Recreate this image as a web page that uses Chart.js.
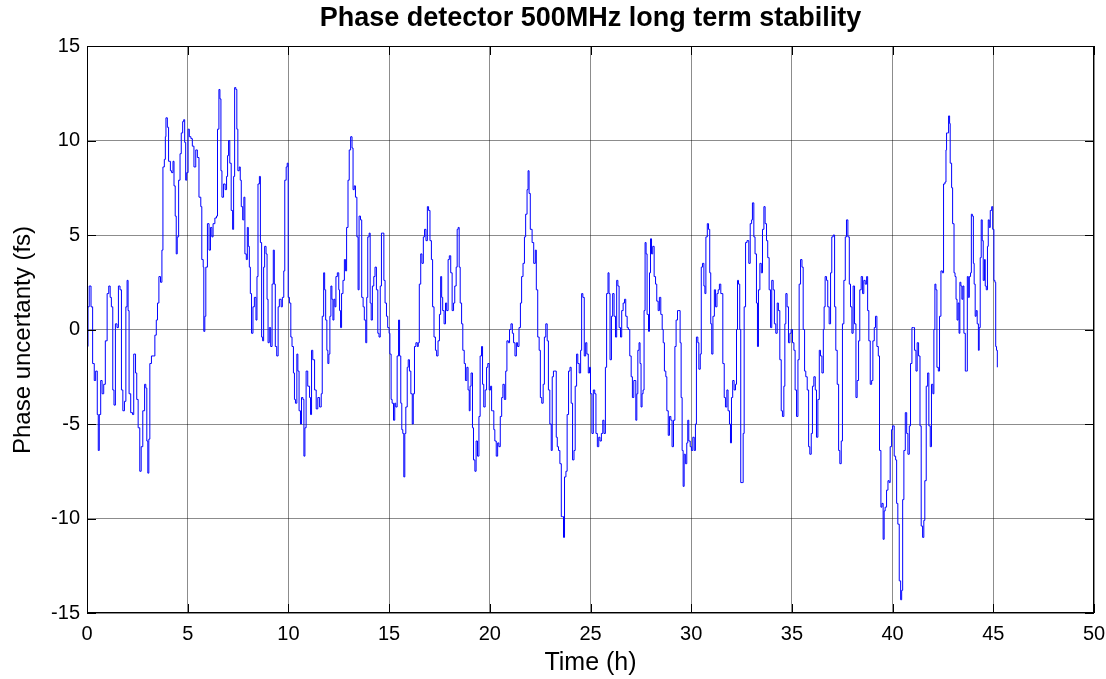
<!DOCTYPE html>
<html>
<head>
<meta charset="utf-8">
<title>Phase detector 500MHz long term stability</title>
<script src="https://cdn.jsdelivr.net/npm/chart.js@4/dist/chart.umd.min.js"></script>
<style>
  html, body { margin: 0; padding: 0; background: #fff; }
  #wrap { width: 1106px; height: 679px; }
</style>
</head>
<body>
<div id="wrap"><canvas id="phase-chart" width="1106" height="679"></canvas></div>
<script>
(function() {
    const FONT = "'Liberation Sans', Arial, sans-serif";

    const chartTitle = 'Phase detector 500MHz long term stability';
    const xLabel = 'Time (h)';
    const yLabel = 'Phase uncertanty (fs)';

    // axis ticks
    const xTicks = [0, 5, 10, 15, 20, 25, 30, 35, 40, 45, 50];
    const yTicks = [-15, -10, -5, 0, 5, 10, 15];

    // time (h) of each reading
    const hours = [
        // 0 - 5.4 h
        0, 0.05, 0.11, 0.2, 0.28, 0.36, 0.43, 0.51, 0.56, 0.61,
        0.68, 0.75, 0.83, 0.91, 1.0, 1.08, 1.15, 1.21, 1.28, 1.34,
        1.41, 1.49, 1.56, 1.64, 1.71, 1.78, 1.86, 1.93, 1.99, 2.04,
        2.09, 2.17, 2.26, 2.32, 2.41, 2.47, 2.54, 2.62, 2.69, 2.77,
        2.86, 2.92, 2.97, 3.02, 3.07, 3.12, 3.2, 3.29, 3.37, 3.44,
        3.5, 3.57, 3.65, 3.72, 3.77, 3.84, 3.89, 3.92, 3.99, 4.05,
        4.14, 4.2, 4.27, 4.32, 4.38, 4.43, 4.48, 4.55, 4.62, 4.68,
        4.75, 4.8, 4.85, 4.9, 4.95, 5.02, 5.08, 5.16, 5.23, 5.31,
        5.4,
        // 5.5 - 10.9 h
        5.48, 5.56, 5.65, 5.7, 5.77, 5.8, 5.85, 5.9, 5.98, 6.06,
        6.13, 6.2, 6.26, 6.35, 6.43, 6.48, 6.55, 6.6, 6.65, 6.7,
        6.78, 6.86, 6.93, 6.98, 7.03, 7.09, 7.16, 7.23, 7.28, 7.33,
        7.39, 7.44, 7.49, 7.56, 7.61, 7.66, 7.73, 7.79, 7.84, 7.91,
        7.96, 8.01, 8.06, 8.11, 8.17, 8.24, 8.31, 8.39, 8.44, 8.49,
        8.56, 8.61, 8.67, 8.72, 8.77, 8.82, 8.89, 8.94, 8.99, 9.05,
        9.12, 9.19, 9.25, 9.3, 9.35, 9.42, 9.49, 9.55, 9.64, 9.7,
        9.77, 9.82, 9.89, 9.94, 9.99, 10.05, 10.12, 10.18, 10.25, 10.3,
        10.35, 10.42, 10.47, 10.53, 10.6, 10.65, 10.72, 10.77, 10.82, 10.88,
        // 11 - 16.4 h
        10.96, 11.05, 11.1, 11.15, 11.21, 11.3, 11.38, 11.46, 11.55, 11.63,
        11.68, 11.75, 11.8, 11.85, 11.91, 11.96, 12.01, 12.06, 12.11, 12.16,
        12.21, 12.26, 12.31, 12.36, 12.43, 12.5, 12.54, 12.59, 12.64, 12.71,
        12.78, 12.84, 12.89, 12.96, 13.02, 13.09, 13.16, 13.21, 13.27, 13.33,
        13.4, 13.46, 13.51, 13.58, 13.64, 13.71, 13.77, 13.84, 13.89, 13.94,
        14.01, 14.06, 14.11, 14.17, 14.24, 14.3, 14.37, 14.44, 14.5, 14.56,
        14.62, 14.69, 14.74, 14.8, 14.87, 14.93, 15.0, 15.04, 15.1, 15.15,
        15.22, 15.28, 15.33, 15.4, 15.47, 15.52, 15.58, 15.63, 15.68, 15.73,
        15.78, 15.83, 15.9, 15.95, 16.01, 16.08, 16.15, 16.2, 16.26, 16.33,
        16.4,
        // 16.5 - 22 h
        16.45, 16.5, 16.57, 16.63, 16.7, 16.76, 16.83, 16.9, 16.96, 17.03,
        17.1, 17.16, 17.23, 17.3, 17.36, 17.43, 17.5, 17.56, 17.61, 17.66,
        17.73, 17.8, 17.86, 17.93, 17.99, 18.06, 18.13, 18.2, 18.26, 18.33,
        18.38, 18.43, 18.48, 18.53, 18.6, 18.66, 18.73, 18.79, 18.86, 18.92,
        18.98, 19.02, 19.07, 19.14, 19.19, 19.26, 19.32, 19.39, 19.46, 19.52,
        19.59, 19.64, 19.7, 19.77, 19.84, 19.9, 19.97, 20.04, 20.09, 20.15,
        20.2, 20.25, 20.32, 20.39, 20.45, 20.52, 20.59, 20.65, 20.72, 20.79,
        20.85, 20.92, 20.98, 21.05, 21.12, 21.18, 21.25, 21.32, 21.38, 21.45,
        21.52, 21.58, 21.65, 21.72, 21.78, 21.85, 21.9, 21.95,
        // 22 - 27.2 h
        22.01, 22.1, 22.18, 22.26, 22.31, 22.38, 22.45, 22.51, 22.58, 22.65,
        22.71, 22.78, 22.85, 22.91, 22.98, 23.05, 23.1, 23.16, 23.23, 23.3,
        23.35, 23.41, 23.48, 23.55, 23.61, 23.66, 23.71, 23.78, 23.84, 23.91,
        23.98, 24.04, 24.11, 24.18, 24.24, 24.31, 24.37, 24.44, 24.51, 24.56,
        24.62, 24.69, 24.76, 24.82, 24.89, 24.95, 25.0, 25.07, 25.14, 25.21,
        25.27, 25.34, 25.41, 25.47, 25.54, 25.61, 25.67, 25.74, 25.8, 25.87,
        25.92, 25.97, 26.04, 26.1, 26.17, 26.24, 26.3, 26.36, 26.42, 26.49,
        26.55, 26.62, 26.69, 26.75, 26.82, 26.88, 26.95, 27.02, 27.08, 27.15,
        // 27.2 - 32.8 h
        27.25, 27.3, 27.35, 27.41, 27.46, 27.51, 27.56, 27.61, 27.66, 27.71,
        27.76, 27.81, 27.88, 27.93, 27.98, 28.03, 28.09, 28.16, 28.23, 28.29,
        28.36, 28.42, 28.49, 28.56, 28.61, 28.67, 28.74, 28.79, 28.86, 28.92,
        28.99, 29.05, 29.12, 29.19, 29.25, 29.32, 29.39, 29.45, 29.5, 29.55,
        29.6, 29.65, 29.71, 29.78, 29.83, 29.88, 29.95, 30.01, 30.08, 30.15,
        30.21, 30.26, 30.33, 30.38, 30.45, 30.5, 30.56, 30.63, 30.68, 30.73,
        30.8, 30.86, 30.92, 30.97, 31.02, 31.08, 31.15, 31.21, 31.28, 31.34,
        31.4, 31.47, 31.57, 31.64, 31.7, 31.77, 31.83, 31.9, 31.95, 32.0,
        32.06, 32.13, 32.2, 32.25, 32.3, 32.35, 32.41, 32.46, 32.53, 32.58,
        32.63, 32.7, 32.77,
        // 32.9 - 38.2 h
        32.86, 32.93, 33.0, 33.04, 33.11, 33.17, 33.24, 33.29, 33.34, 33.41,
        33.48, 33.54, 33.61, 33.67, 33.74, 33.8, 33.87, 33.94, 34.0, 34.07,
        34.13, 34.2, 34.27, 34.33, 34.4, 34.47, 34.53, 34.6, 34.65, 34.7,
        34.76, 34.83, 34.9, 34.96, 35.03, 35.1, 35.16, 35.23, 35.3, 35.36,
        35.43, 35.5, 35.56, 35.63, 35.69, 35.76, 35.83, 35.89, 35.96, 36.02,
        36.09, 36.16, 36.22, 36.29, 36.36, 36.42, 36.49, 36.56, 36.6, 36.65,
        36.72, 36.78, 36.85, 36.92, 36.98, 37.05, 37.12, 37.18, 37.25, 37.32,
        37.38, 37.45, 37.51, 37.58, 37.65, 37.71, 37.78, 37.85, 37.91, 37.98,
        38.04, 38.11, 38.18,
        // 38.2 - 42.1 h
        38.24, 38.31, 38.37, 38.44, 38.51, 38.57, 38.64, 38.71, 38.76, 38.82,
        38.89, 38.96, 39.02, 39.09, 39.15, 39.22, 39.29, 39.35, 39.42, 39.47,
        39.53, 39.58, 39.63, 39.7, 39.77, 39.83, 39.88, 39.95, 40.0, 40.08,
        40.15, 40.2, 40.26, 40.33, 40.4, 40.45, 40.5, 40.56, 40.63, 40.7,
        40.76, 40.83, 40.89, 40.96, 41.03, 41.09, 41.16, 41.22, 41.29, 41.36,
        41.42, 41.49, 41.55, 41.6, 41.67, 41.74, 41.8, 41.87, 41.93, 42.0,
        42.05, 42.1,
        // 42.1 - 45.2 h
        42.15, 42.2, 42.27, 42.33, 42.4, 42.47, 42.53, 42.6, 42.65, 42.68,
        42.73, 42.78, 42.83, 42.86, 42.93, 42.98, 43.05, 43.1, 43.15, 43.2,
        43.25, 43.3, 43.34, 43.39, 43.44, 43.49, 43.54, 43.61, 43.66, 43.71,
        43.76, 43.81, 43.87, 43.91, 43.96, 44.01, 44.05, 44.1, 44.15, 44.2,
        44.26, 44.3, 44.35, 44.4, 44.45, 44.5, 44.56, 44.6, 44.65, 44.71,
        44.75, 44.8, 44.85, 44.92, 44.97, 45.03, 45.08, 45.12, 45.16, 45.2
    ];

    // phase (fs) at each reading
    const phase = [
        // 0 - 5.4 h
        -0.9, 1.2, 2.3, 1.2, -1.8, -2.7, -2.2, -4.5, -6.4, -4.5,
        -2.7, -3.4, -2.9, -0.6, 1.9, 2.3, 1.7, 1.2, -3.2, -4.0,
        0.3, 0.1, 2.3, 2.1, -3.2, -4.3, -3.8, 1.2, 2.6, 1.0,
        -3.4, -4.4, -4.5, -1.3, -2.3, -3.7, -5.2, -7.5, -6.2, -4.3,
        -2.9, -3.1, -5.9, -7.6, -5.8, -1.8, -1.4, -1.4, -0.3, 0.5,
        1.4, 2.8, 2.5, 4.2, 8.6, 9.0, 10.2, 11.2, 10.7, 8.9,
        8.4, 8.3, 8.9, 7.6, 6.0, 4.0, 4.9, 7.9, 9.3, 10.4,
        11.0, 11.1, 9.9, 7.9, 8.3, 10.6, 10.2, 10.1, 9.7, 8.6,
        9.5,
        // 5.5 - 10.9 h
        9.1, 7.0, 6.5, 3.7, 3.3, -0.1, 0.7, 3.3, 5.6, 4.2,
        5.4, 4.9, 5.6, 5.9, 6.0, 10.6, 12.7, 12.2, 8.4, 7.0,
        7.7, 7.4, 8.1, 9.2, 10.0, 8.8, 6.3, 5.3, 8.1, 12.8,
        12.7, 10.6, 8.4, 8.6, 7.9, 6.5, 5.8, 7.0, 4.0, 3.7,
        5.4, 4.4, 3.3, 1.9, -0.2, 1.2, 1.7, 0.5, 2.8, 7.7,
        8.1, 4.6, -0.4, -0.6, 3.3, 4.4, 4.0, 1.6, -0.7, 0.1,
        -0.9, 2.4, 4.2, 2.4, -0.9, -1.4, 1.2, 1.6, 1.2, 1.7,
        3.1, 7.9, 8.6, 8.8, 1.7, 1.4, -0.4, -0.9, -2.3, -3.7,
        -3.9, -1.3, -2.2, -4.3, -5.0, -3.6, -3.7, -6.7, -5.2, -2.2,
        // 11 - 16.4 h
        -3.0, -3.6, -4.5, -1.1, -1.6, -3.2, -4.2, -3.6, -4.1, -3.4,
        0.7, 3.0, 2.1, 0.5, -1.1, -1.8, -1.3, 0.7, 2.3, 1.6,
        0.5, 1.6, 1.2, 2.8, 3.0, 2.1, 1.0, 0.1, 1.9, 2.6,
        3.7, 3.1, 5.4, 7.9, 9.5, 10.2, 9.6, 7.4, 7.6, 7.0,
        4.9, 2.1, 6.0, 5.8, 1.7, 1.2, 0.5, -0.7, 1.7, 4.9,
        5.1, 1.4, 0.5, 2.3, 2.8, 3.3, 2.1, -0.2, -0.4, 2.3,
        5.1, 5.1, 2.6, 1.4, 0.7, 0.1, -0.2, -1.3, -3.7, -3.9,
        -4.8, -3.9, -4.1, -1.4, 0.5, -1.4, -3.9, -5.3, -5.5, -7.8,
        -5.5, -4.1, -2.0, -1.6, -2.2, -3.4, -5.0, -3.4, -0.9, -0.7,
        -0.9,
        // 16.5 - 22 h
        -0.7, 2.4, 4.0, 3.5, 4.9, 5.3, 4.7, 6.5, 6.3, 4.7,
        3.7, 1.2, -0.4, -1.1, -1.4, -0.6, 0.8, 2.8, 1.7, 1.0,
        0.3, 1.4, 1.0, 3.7, 3.9, 3.0, 1.0, 1.4, 2.3, 3.3,
        5.3, 5.4, 3.3, 1.4, 0.3, -1.1, -1.8, -2.7, -2.0, -3.2,
        -4.3, -3.0, -2.3, -5.2, -6.9, -7.5, -5.9, -6.7, -4.6, -1.4,
        -0.9, -2.9, -4.1, -3.2, -2.0, -1.8, -3.2, -3.0, -4.3, -4.3,
        -5.3, -5.9, -6.7, -6.0, -6.2, -4.6, -3.6, -2.9, -3.7, -2.2,
        -0.6, -0.7, 0.0, 0.3, -0.2, -0.7, -1.4, -0.7, -0.9, 0.1,
        1.4, 2.8, 3.5, 4.9, 6.1, 7.4, 8.4, 7.2,
        // 22 - 27.2 h
        5.3, 4.6, 3.5, 4.2, 2.1, -0.4, -1.1, -3.6, -3.9, -2.9,
        -0.4, 0.3, -0.6, -3.2, -5.0, -6.4, -2.5, -2.2, -2.2, -5.7,
        -6.2, -6.4, -7.1, -9.9, -9.9, -11.0, -7.8, -7.5, -4.5, -2.2,
        -2.0, -3.9, -6.9, -6.4, -3.0, -1.3, -1.8, -2.3, -1.1, 1.9,
        1.7, -1.4, -0.7, -1.3, -2.3, -2.0, -3.4, -5.5, -3.2, -3.4,
        -5.5, -6.2, -5.7, -5.9, -5.5, -4.8, -5.5, -2.0, 1.9, 3.0,
        1.9, -1.6, 0.7, 1.9, 0.7, -0.4, 2.6, 2.3, 0.1, -0.4,
        1.0, 1.4, 1.6, 0.7, 0.1, 0.0, -1.4, -2.5, -3.6, -2.7,
        // 27.2 - 32.8 h
        -4.8, -3.4, -1.1, -0.7, -1.8, -4.1, -3.4, -3.2, 1.0, 4.6,
        4.0, 0.8, -0.1, 3.0, 4.8, 4.0, 4.4, 2.8, 2.4, 1.5,
        1.0, 1.7, 0.8, 0.0, -0.7, -2.2, -2.5, -4.3, -5.6, -4.6,
        -4.8, -6.2, -4.8, -0.9, 0.5, 1.0, 1.0, -0.7, -3.6, -6.4,
        -8.3, -6.6, -7.1, -6.0, -4.8, -5.9, -6.2, -6.4, -5.7, -6.4,
        -5.0, -0.4, -0.7, -2.1, -1.3, 3.3, 3.5, 2.3, 1.9, 4.9,
        5.6, 5.3, 3.0, 0.3, -1.3, 0.7, 2.1, 1.2, 1.9, 2.1,
        2.4, 1.9, -1.8, -3.6, -4.1, -3.2, -4.3, -5.0, -6.0, -3.6,
        -2.7, -3.2, -2.9, 0.0, 2.6, 2.4, 0.0, -8.1, -8.1, -5.5,
        1.2, 4.6, 4.7,
        // 32.9 - 38.2 h
        3.5, 5.6, 5.8, 6.7, 4.9, 4.0, 1.4, -0.9, 2.1, 3.5,
        3.0, 5.3, 6.5, 5.6, 4.7, 3.8, 2.1, 0.1, 2.6, 2.1,
        0.3, -0.2, 1.4, 1.0, -1.6, -4.3, -4.6, -3.0, 0.3, 1.9,
        1.2, -0.7, -0.2, 0.0, -0.7, -1.1, -3.2, -4.6, -1.6, 2.4,
        3.7, 3.3, 0.0, -2.2, -2.5, -3.2, -6.2, -6.6, -5.5, -3.0,
        -2.5, -3.2, -5.7, -3.7, -1.1, -1.4, -2.3, 0.0, 1.2, 2.8,
        2.6, 1.2, 0.3, 3.0, 4.9, 5.0, 1.2, -1.1, -2.9, -6.4,
        -7.1, -5.9, 0.3, 2.6, 4.9, 5.8, 4.9, 2.4, 1.2, -0.2,
        2.3, 0.3, -3.6,
        // 38.2 - 42.1 h
        -2.7, -0.6, 2.1, 2.8, 1.9, 2.6, 2.4, 2.8, 1.0, -0.6,
        -2.9, -2.7, -0.6, 0.1, 0.7, -0.9, -1.4, -6.4, -9.4, -9.2,
        -11.1, -9.6, -9.4, -8.5, -8.0, -8.1, -6.2, -5.3, -5.1, -6.7,
        -6.9, -9.2, -10.3, -13.3, -14.3, -13.8, -9.0, -6.4, -4.4, -5.5,
        -6.6, -5.1, -1.8, 0.1, 0.1, -1.1, -2.2, -0.7, -1.4, -5.1,
        -10.4, -11.0, -10.1, -8.0, -3.0, -2.3, -5.1, -6.2, -2.9, -3.4,
        0.0, 2.4,
        // 42.1 - 45.2 h
        2.1, -2.0, -2.2, 0.7, 3.1, 3.0, 7.7, 7.8, 9.5, 10.4,
        10.4, 11.3, 10.9, 8.8, 7.5, 5.6, 3.0, 2.8, 1.6, 0.5,
        1.4, -0.2, 2.5, 2.3, 1.6, 2.3, -0.2, -2.2, -2.2, 2.8,
        1.7, 2.8, 3.0, 6.1, 6.0, 3.5, 2.4, 0.7, 1.0, 0.3,
        -1.1, 0.1, 3.8, 5.8, 4.7, 2.6, 3.7, 2.3, 2.1, 4.4,
        5.8, 5.4, 6.3, 6.5, 5.3, 2.6, 2.5, -0.9, -1.1, -2.0
    ];

    if (hours.length !== phase.length) {
        console.error('hours/phase length mismatch', hours.length, phase.length);
    }

    const points = hours.map((h, i) => ({ x: h, y: phase[i] }));

    // MATLAB style axes box, inward tick marks, title and y label
    const axesPlugin = {
        id: 'axesBox',
        afterDraw(chart) {
            const { ctx, chartArea: a, scales } = chart;
            const tickLen = 9;
            ctx.save();
            ctx.strokeStyle = '#000';
            ctx.lineWidth = 1;
            ctx.beginPath();
            xTicks.forEach(v => {
                const px = Math.round(scales.x.getPixelForValue(v)) + 0.5;
                ctx.moveTo(px, a.bottom);
                ctx.lineTo(px, a.bottom - tickLen);
                ctx.moveTo(px, a.top);
                ctx.lineTo(px, a.top + tickLen);
            });
            yTicks.forEach(v => {
                const py = Math.round(scales.y.getPixelForValue(v)) + 0.5;
                ctx.moveTo(a.left, py);
                ctx.lineTo(a.left + tickLen, py);
                ctx.moveTo(a.right, py);
                ctx.lineTo(a.right - tickLen, py);
            });
            ctx.stroke();
            ctx.strokeRect(Math.round(a.left) + 0.5, Math.round(a.top) + 0.5,
                Math.round(a.right - a.left) - 1, Math.round(a.bottom - a.top) - 1);

            // title, centred over the axes
            ctx.fillStyle = '#000';
            ctx.textAlign = 'center';
            ctx.textBaseline = 'middle';
            ctx.font = "bold 27px " + FONT;
            ctx.fillText(chartTitle, (a.left + a.right) / 2, 19);

            // y label
            ctx.font = "24px " + FONT;
            ctx.translate(23, 340);
            ctx.rotate(-Math.PI / 2);
            ctx.fillText(yLabel, 0, 0);
            ctx.restore();
        }
    };

    const gridStyle = {
        color: 'rgba(0, 0, 0, 0.45)',
        lineWidth: 1,
        drawTicks: false
    };

    new Chart(document.getElementById('phase-chart'), {
        type: 'line',
        data: {
            datasets: [{
                data: points,
                borderColor: '#0000ff',
                borderWidth: 1,
                pointRadius: 0,
                stepped: true,
                fill: false
            }]
        },
        options: {
            responsive: false,
            animation: false,
            devicePixelRatio: 1,
            layout: { padding: { top: 46, right: 12, bottom: 0, left: 0 } },
            plugins: {
                legend: { display: false },
                tooltip: { enabled: false },
                title: { display: false }
            },
            scales: {
                x: {
                    type: 'linear',
                    min: 0,
                    max: 50,
                    afterBuildTicks: s => { s.ticks = xTicks.map(v => ({ value: v })); },
                    afterFit: s => {
                        s.height = 66;
                        s.paddingLeft = 0;
                        s.paddingRight = 0;
                    },
                    grid: gridStyle,
                    border: { display: false },
                    ticks: {
                        color: '#000',
                        padding: 9,
                        maxRotation: 0,
                        font: { family: FONT, size: 20 }
                    },
                    title: {
                        display: true,
                        text: xLabel,
                        color: '#000',
                        font: { family: FONT, size: 25 },
                        padding: { top: 0, bottom: 1 }
                    }
                },
                y: {
                    type: 'linear',
                    min: -15,
                    max: 15,
                    afterBuildTicks: s => { s.ticks = yTicks.map(v => ({ value: v })); },
                    afterFit: s => { s.width = 87; },
                    grid: gridStyle,
                    border: { display: false },
                    ticks: {
                        color: '#000',
                        padding: 7,
                        font: { family: FONT, size: 20 }
                    },
                    title: { display: false }
                }
            }
        },
        plugins: [axesPlugin]
    });
})();
</script>
</body>
</html>
